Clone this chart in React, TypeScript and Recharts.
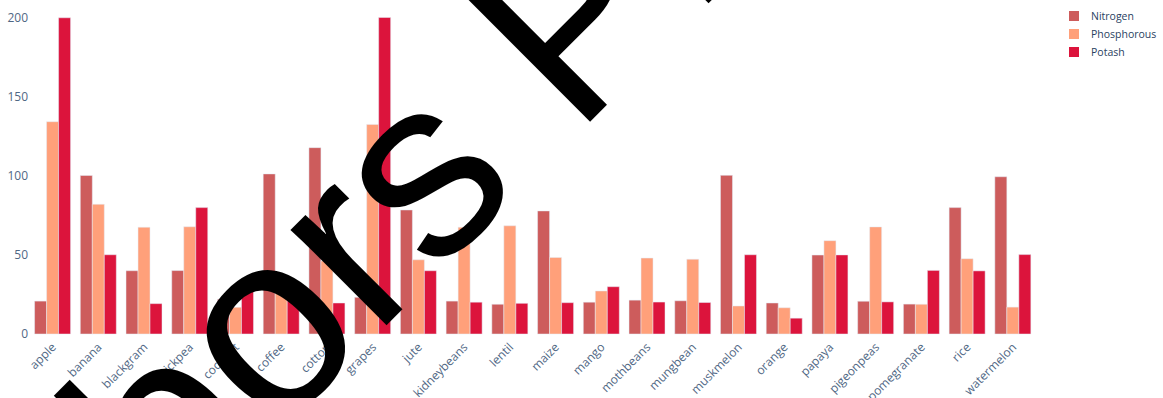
import { BarChart, Bar, XAxis, YAxis } from 'recharts'

const crops = [
  'apple', 'banana', 'blackgram', 'chickpea', 'coconut', 'coffee', 'cotton',
  'grapes', 'jute', 'kidneybeans', 'lentil', 'maize', 'mango', 'mothbeans',
  'mungbean', 'muskmelon', 'orange', 'papaya', 'pigeonpeas', 'pomegranate',
  'rice', 'watermelon',
]
const nitrogen = [20.8, 100.2, 40.0, 40.1, 22.0, 101.2, 117.8, 23.2, 78.4, 20.8, 18.8, 77.8, 20.1, 21.4, 21.0, 100.3, 19.6, 49.9, 20.7, 18.9, 79.9, 99.4]
const phosphorous = [134.2, 82.0, 67.5, 67.8, 16.9, 28.7, 46.2, 132.5, 46.9, 67.5, 68.4, 48.4, 27.2, 48.0, 47.3, 17.7, 16.6, 59.0, 67.7, 18.8, 47.6, 17.0]
const potash = [199.9, 50.1, 19.2, 79.9, 30.6, 29.9, 19.6, 200.1, 40.0, 20.1, 19.4, 19.8, 29.9, 20.2, 19.9, 50.1, 10.0, 50.0, 20.3, 40.2, 39.9, 50.2]
const yTicks = [0, 50, 100, 150, 200]

const seriesNames = ['Nitrogen', 'Phosphorous', 'Potash']
const colors = ['#CD5C5C', '#FFA07A', '#DC143C']

// big rotated title that runs across the plot
const titleHead = 'Nearest Neighbors'
const titleTail = 'Prediction'

const data = crops.map((c, i) => ({
  crop: c,
  Nitrogen: nitrogen[i],
  Phosphorous: phosphorous[i],
  Potash: potash[i],
}))

const tickColor = '#506784'
const font = '"Open Sans", Arial, sans-serif'

const XTick = (props: any) => {
  const { x, y, payload } = props
  const ax = x + 4
  const ay = y + 12
  return (
    <text
      x={ax}
      y={ay}
      transform={`rotate(-45 ${ax} ${ay})`}
      textAnchor="end"
      fill={tickColor}
      fontSize={12}
      fontFamily={font}
    >
      {payload.value}
    </text>
  )
}

const LegendBox = () => (
  <div style={{ position: 'absolute', left: 1069, top: 7, fontFamily: font, fontSize: 10.5, color: '#2a3f5f', whiteSpace: 'nowrap' }}>
    {seriesNames.map((n, i) => (
      <div key={n} style={{ display: 'flex', alignItems: 'center', height: 18 }}>
        <span style={{ width: 10, height: 10, background: colors[i], marginRight: 12, display: 'inline-block' }} />
        <span>{n}</span>
      </div>
    ))}
  </div>
)

export default function App() {
  return (
    <div style={{ position: 'absolute', left: 0, top: 0, width: 1163, height: 398, background: '#fff', overflow: 'hidden' }}>
      <BarChart
        width={1163}
        height={398}
        data={data}
        margin={{ top: 1, right: 127, left: 0, bottom: 0 }}
        barCategoryGap="10%"
        barGap={0}
      >
        <XAxis
          dataKey="crop"
          interval={0}
          axisLine={false}
          tickLine={false}
          tickSize={0}
          height={64}
          tick={<XTick />}
        />
        <YAxis
          width={30}
          domain={[0, 210.5]}
          ticks={yTicks}
          axisLine={false}
          tickLine={false}
          tickSize={0}
          tickMargin={2}
          tick={{ fill: tickColor, fontSize: 12, fontFamily: font }}
        />
        {seriesNames.map((n, i) => (
          <Bar
            key={n}
            dataKey={n}
            fill={colors[i]}
            stroke="#E5ECF6"
            strokeWidth={0.5}
            isAnimationActive={false}
          />
        ))}
      </BarChart>
      <LegendBox />
      <svg
        width={1163}
        height={398}
        style={{ position: 'absolute', left: 0, top: 0, pointerEvents: 'none' }}
      >
        <g transform="translate(575.2 136.5) rotate(-45)" fontFamily='"Liberation Sans", Arial, sans-serif' fontSize={256} fill="#000">
          <text x={-71.2} y={0} textAnchor="end">{titleHead}</text>
          <text x={0} y={0} textAnchor="start">{titleTail}</text>
        </g>
      </svg>
    </div>
  )
}
